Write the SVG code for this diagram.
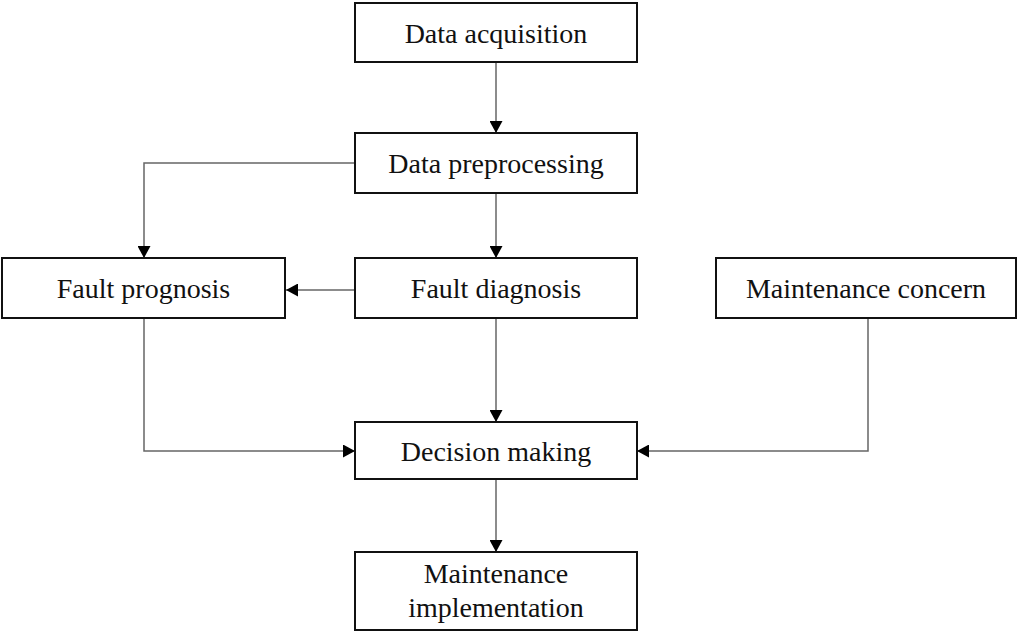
<svg xmlns="http://www.w3.org/2000/svg" width="1018" height="632" viewBox="0 0 1018 632">
  <style>
    .box { fill: #ffffff; stroke: #111111; stroke-width: 2; }
    .lbl { font-family: "Liberation Serif", "Times New Roman", serif; font-size: 28px; fill: #111111; text-anchor: middle; }
    .wire { fill: none; stroke: #666666; stroke-width: 1.5; }
  </style>
  <defs>
    <marker id="arrow" viewBox="0 0 12 13" refX="12" refY="6.5" markerWidth="12" markerHeight="13" markerUnits="userSpaceOnUse" orient="auto">
      <path d="M0,0 L12,6.5 L0,13 Z" fill="#000000"/>
    </marker>
  </defs>
  <rect width="1018" height="632" fill="#ffffff"/>

  <g id="connectors">
    <line class="wire" x1="496" y1="62" x2="496" y2="133" marker-end="url(#arrow)"/>
    <polyline class="wire" points="355,163 144,163 144,258" marker-end="url(#arrow)"/>
    <line class="wire" x1="496" y1="193" x2="496" y2="258" marker-end="url(#arrow)"/>
    <line class="wire" x1="355" y1="290" x2="286" y2="290" marker-end="url(#arrow)"/>
    <line class="wire" x1="496" y1="318" x2="496" y2="422" marker-end="url(#arrow)"/>
    <polyline class="wire" points="144,318 144,451 355,451" marker-end="url(#arrow)"/>
    <polyline class="wire" points="868,318 868,451 637,451" marker-end="url(#arrow)"/>
    <line class="wire" x1="496" y1="479" x2="496" y2="552" marker-end="url(#arrow)"/>
  </g>

  <g id="data-acquisition">
    <rect class="box" x="355" y="3" width="282" height="59"/>
    <text class="lbl" x="496" y="43">Data acquisition</text>
  </g>
  <g id="data-preprocessing">
    <rect class="box" x="355" y="133" width="282" height="60"/>
    <text class="lbl" x="496" y="173">Data preprocessing</text>
  </g>
  <g id="fault-prognosis">
    <rect class="box" x="2" y="258" width="283" height="60"/>
    <text class="lbl" x="143.5" y="298">Fault prognosis</text>
  </g>
  <g id="fault-diagnosis">
    <rect class="box" x="355" y="258" width="282" height="60"/>
    <text class="lbl" x="496" y="298">Fault diagnosis</text>
  </g>
  <g id="maintenance-concern">
    <rect class="box" x="716" y="258" width="300" height="60"/>
    <text class="lbl" x="866" y="298">Maintenance concern</text>
  </g>
  <g id="decision-making">
    <rect class="box" x="355" y="422" width="282" height="57"/>
    <text class="lbl" x="496" y="461">Decision making</text>
  </g>
  <g id="maintenance-implementation">
    <rect class="box" x="355" y="552" width="282" height="78"/>
    <text class="lbl" x="496" y="583">Maintenance</text>
    <text class="lbl" x="496" y="617">implementation</text>
  </g>
</svg>
